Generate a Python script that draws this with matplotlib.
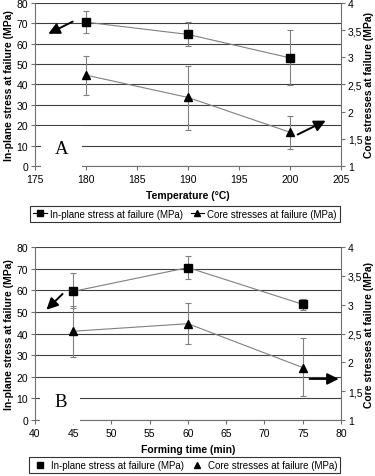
import matplotlib.pyplot as plt
import matplotlib.ticker as plticker

# panel A - temperature
temp = [180, 190, 200]
inplane_a = [70.5, 64.5, 53.0]
inplane_a_lo = [65.0, 59.0, 39.5]
inplane_a_hi = [76.0, 70.5, 66.5]
core_a = [2.67, 2.26, 1.62]
core_a_lo = [2.31, 1.66, 1.32]
core_a_hi = [3.03, 2.84, 1.92]

# panel B - forming time
ftime = [45, 60, 75]
inplane_b = [59.5, 70.5, 53.5]
inplane_b_lo = [51.8, 65.0, 51.0]
inplane_b_hi = [67.8, 76.0, 56.0]
core_b = [2.54, 2.67, 1.91]
core_b_lo = [2.09, 2.31, 1.41]
core_b_hi = [2.98, 3.03, 2.43]

lab1 = 'In-plane stress at failure (MPa)'
lab2 = 'Core stresses at failure (MPa)'

plt.rcParams['font.family'] = ['Liberation Sans', 'DejaVu Sans']
plt.rcParams['font.size'] = 7.5

fig = plt.figure(figsize=(3.75, 4.77), dpi=100)


def err(v, lo, hi):
    return [[a - b for a, b in zip(v, lo)], [b - a for a, b in zip(v, hi)]]


def panel(rect, x, p, plo, phi, c, clo, chi, xlim, xstep, xlabel, letter, letter_x, letter_pad,
          arrows, legend_lines, leg_y):
    ax = fig.add_axes(rect)
    ax2 = ax.twinx()
    ax.set_ylim(0, 80)
    ax2.set_ylim(1, 4)
    ax.set_xlim(*xlim)
    ax.xaxis.set_major_locator(plticker.MultipleLocator(xstep))
    ax.yaxis.set_major_locator(plticker.MultipleLocator(10))
    ax2.yaxis.set_major_locator(plticker.MultipleLocator(0.5))
    ax2.yaxis.set_major_formatter(plticker.FuncFormatter(lambda v, pos: ('%g' % v).replace('.', ',')))
    ax.grid(axis='y', color='#404040', lw=0.8)
    ax.set_axisbelow(True)
    for a in (ax, ax2):
        a.spines['top'].set_visible(False)
        for s in ('left', 'right', 'bottom'):
            a.spines[s].set_color('#707070')
            a.spines[s].set_linewidth(0.8)
        a.tick_params(direction='out', length=3, width=0.8, color='#707070', labelsize=7.5, pad=2)
    ax.tick_params(axis='x', pad=3)
    ax.spines['right'].set_visible(False)
    ax2.spines['left'].set_visible(False)
    ax2.spines['bottom'].set_visible(False)

    ax.errorbar(x, p, yerr=err(p, plo, phi), color='#808080', lw=0.8, elinewidth=0.8,
                capsize=2, capthick=0.8, marker='s', ms=5.5, mfc='black', mec='black', zorder=3)
    ax2.errorbar(x, c, yerr=err(c, clo, chi), color='#808080', lw=0.8, elinewidth=0.8,
                 capsize=2, capthick=0.8, marker='^', ms=5.5, mfc='black', mec='black', zorder=3)

    ax.set_xlabel(xlabel, fontweight='bold', fontsize=7.5, labelpad=4)
    ax.set_ylabel(lab1, fontweight='bold', fontsize=7.5, labelpad=2)
    ax2.set_ylabel(lab2, fontweight='bold', fontsize=7.5, labelpad=1)

    ax.text(letter_x, 8.5, letter, family=['Liberation Serif', 'DejaVu Serif'], fontsize=13.5,
            ha='center', va='center', zorder=4,
            bbox=dict(facecolor='white', edgecolor='none', pad=letter_pad))

    for (x0, y0, x1, y1) in arrows:
        ax.annotate('', xy=(x1, y1), xytext=(x0, y0), zorder=5,
                    arrowprops=dict(arrowstyle='-|>', color='black', lw=1.4, mutation_scale=17,
                                    shrinkA=0, shrinkB=0))

    if legend_lines:
        h1 = plt.Line2D([], [], color='black', lw=0.8, marker='s', ms=5, mfc='black')
        h2 = plt.Line2D([], [], color='black', lw=0.8, marker='^', ms=5, mfc='black')
        hl, cs = 1.4, 0.8
    else:
        h1 = plt.Line2D([], [], color='none', marker='s', ms=4.5, mfc='black', mec='black')
        h2 = plt.Line2D([], [], color='none', marker='^', ms=4.5, mfc='black', mec='black')
        hl, cs = 1.6, 0.6
    leg = ax.legend([h1, h2], [lab1, lab2], loc='upper center', ncol=2, fontsize=7,
                    bbox_to_anchor=(0.49, leg_y), frameon=True, fancybox=False,
                    handlelength=hl, handletextpad=0.3, columnspacing=cs,
                    borderpad=0.3, borderaxespad=0)
    leg.get_frame().set_edgecolor('black')
    leg.get_frame().set_linewidth(0.8)
    return ax


panel([0.0933, 0.650, 0.816, 0.342], temp, inplane_a, inplane_a_lo, inplane_a_hi,
      core_a, core_a_lo, core_a_hi, (175, 205), 5, 'Temperature (\u00b0C)', 'A', 177.6, 10,
      [(178.7, 70.8, 176.3, 64.8), (200.75, 15.4, 203.5, 22.2)], True, -0.245)

panel([0.0933, 0.1174, 0.816, 0.3626], ftime, inplane_b, inplane_b_lo, inplane_b_hi,
      core_b, core_b_lo, core_b_hi, (40, 80), 5, 'Forming time (min)', 'B', 43.3, 10,
      [(43.6, 58.3, 41.5, 51.0), (75.9, 19.0, 79.7, 19.0)], False, -0.215)

fig.savefig('out.png', dpi=100)
